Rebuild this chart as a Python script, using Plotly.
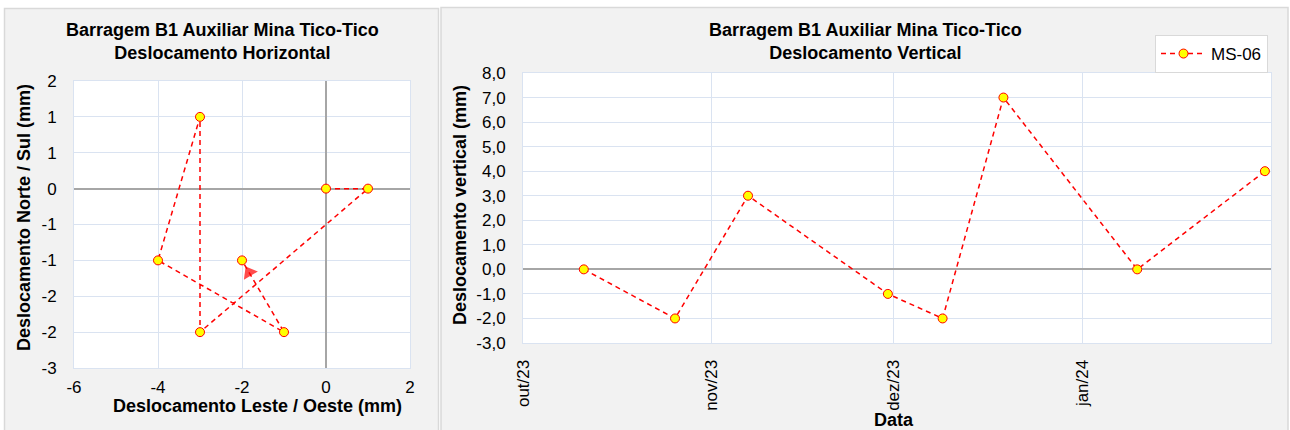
import plotly.graph_objects as go

# --- Horizontal displacement readings (mm) ---
leste_oeste = [0, 1, -3, -3, -4, -1, -2]
norte_sul = [0, 0, -2, 1, -1, -2, -1]

# North/South axis: ticks every 0.5 mm shown with integer rounding
ns_tickvals = [-2.5, -2, -1.5, -1, -0.5, 0, 0.5, 1, 1.5]
ns_ticktext = ["-3", "-2", "-2", "-1", "-1", "0", "1", "1", "2"]
lo_tickvals = [-6, -4, -2, 0, 2]
lo_ticktext = ["-6", "-4", "-2", "0", "2"]

# --- Vertical displacement readings (mm), settlement plate MS-06 ---
datas = ["2023-10-11", "2023-10-26", "2023-11-07", "2023-11-30",
         "2023-12-09", "2023-12-19", "2024-01-10", "2024-01-31"]
ms06 = [0, -2, 3, -1, -2, 7, 0, 4]

mes_tickvals = ["2023-10-01", "2023-11-01", "2023-12-01", "2024-01-01"]
mes_ticktext = ["out/23", "nov/23", "dez/23", "jan/24"]

vert_tickvals = [-3, -2, -1, 0, 1, 2, 3, 4, 5, 6, 7, 8]
vert_ticktext = [f"{v:.1f}".replace(".", ",") for v in vert_tickvals]

W, H = 1290, 430
FONT = "Liberation Sans, Arial, sans-serif"
RED = "#ff0000"
YELLOW = "#ffff00"
GRID = "#dae3f1"
ZERO = "#a6a6a6"
PANEL = "#f2f2f2"
PANEL_EDGE = "#d9d9d9"


def px(x):
    return x / W


def py(y):
    return 1 - y / H


line_style = dict(color=RED, width=1.5, dash="5px,4px")
marker_style = dict(symbol="circle", size=9, color=YELLOW, line=dict(color=RED, width=1))

fig = go.Figure()

fig.add_trace(go.Scatter(
    x=leste_oeste, y=norte_sul, mode="lines+markers",
    line=line_style, marker=marker_style, showlegend=False,
    xaxis="x", yaxis="y",
))

# arrowhead on the last segment, just before the final reading
frac = 0.17
tip_x = leste_oeste[-1] + frac * (leste_oeste[-2] - leste_oeste[-1])
tip_y = norte_sul[-1] + frac * (norte_sul[-2] - norte_sul[-1])
fig.add_trace(go.Scatter(
    x=[leste_oeste[-2], tip_x], y=[norte_sul[-2], tip_y], mode="markers",
    marker=dict(symbol=["circle", "triangle-up"], size=[0, 14], color=RED,
                angleref="previous", line=dict(width=0)),
    showlegend=False, hoverinfo="skip", xaxis="x", yaxis="y",
))

fig.add_trace(go.Scatter(
    x=datas, y=ms06, mode="lines+markers", name="MS-06",
    line=line_style, marker=marker_style, showlegend=True,
    xaxis="x2", yaxis="y2",
))

axis_common = dict(
    showgrid=True, gridcolor=GRID, gridwidth=1,
    showline=True, mirror=True, linecolor=GRID, linewidth=1,
    ticks="", tickfont=dict(family=FONT, size=17, color="#000000"),
    fixedrange=True, automargin=False,
)

fig.update_layout(
    template="none",
    width=W, height=H,
    margin=dict(l=0, r=0, t=0, b=0, pad=0, autoexpand=False),
    paper_bgcolor="#ffffff", plot_bgcolor="#ffffff",
    font=dict(family=FONT, size=17, color="#000000"),
    xaxis=dict(axis_common, domain=[px(74), px(410)], range=[-6, 2],
               tickvals=lo_tickvals, ticktext=lo_ticktext, anchor="y",
               zeroline=True, zerolinecolor=ZERO, zerolinewidth=2,
               ticklabelstandoff=4),
    yaxis=dict(axis_common, domain=[py(368), py(81)], range=[-2.5, 1.5],
               tickvals=ns_tickvals, ticktext=ns_ticktext, anchor="x",
               zeroline=True, zerolinecolor=ZERO, zerolinewidth=2,
               ticklabelstandoff=13),
    xaxis2=dict(axis_common, type="date", domain=[px(523), px(1271)],
                range=["2023-10-01", "2024-02-01"],
                tickvals=mes_tickvals, ticktext=mes_ticktext, tickangle=-90,
                anchor="y2", ticklabelstandoff=9),
    yaxis2=dict(axis_common, domain=[py(343), py(73)], range=[-3, 8],
                tickvals=vert_tickvals, ticktext=vert_ticktext, anchor="x2",
                zeroline=True, zerolinecolor=ZERO, zerolinewidth=2,
                ticklabelstandoff=13),
    legend=dict(x=px(1268), xanchor="right", y=py(54), yanchor="middle",
                bgcolor="#ffffff", bordercolor=PANEL_EDGE, borderwidth=1,
                itemwidth=45,
                font=dict(family=FONT, size=17, color="#000000")),
)

# chart panels and white plotting areas
fig.add_shape(type="rect", xref="paper", yref="paper", layer="below",
              x0=px(4.5), x1=px(438.5), y0=-0.05, y1=py(8.5),
              fillcolor=PANEL, line=dict(color=PANEL_EDGE, width=1.5))
fig.add_shape(type="rect", xref="paper", yref="paper", layer="below",
              x0=px(441), x1=px(1288), y0=-0.05, y1=py(7.5),
              fillcolor=PANEL, line=dict(color=PANEL_EDGE, width=1.5))
fig.add_shape(type="rect", xref="paper", yref="paper", layer="below",
              x0=px(74), x1=px(410), y0=py(368), y1=py(81),
              fillcolor="#ffffff", line=dict(width=0))
fig.add_shape(type="rect", xref="paper", yref="paper", layer="below",
              x0=px(523), x1=px(1271), y0=py(343), y1=py(73),
              fillcolor="#ffffff", line=dict(width=0))

bold = dict(family=FONT, size=18, color="#000000", weight="bold")


def note(text, x, y, angle=0):
    fig.add_annotation(text=text, x=px(x), y=py(y), xref="paper", yref="paper",
                       xanchor="center", yanchor="middle", showarrow=False,
                       textangle=angle, font=bold)


note("Barragem B1 Auxiliar Mina Tico-Tico<br>Deslocamento Horizontal", 222, 41)
note("Barragem B1 Auxiliar Mina Tico-Tico<br>Deslocamento Vertical", 865, 41)
note("Deslocamento Leste / Oeste (mm)", 257, 406)
note("Deslocamento Norte / Sul (mm)", 24, 218, -90)
note("Deslocamento vertical (mm)", 460, 205, -90)
note("Data", 894, 420)

# the page body keeps no default margin so the figure fills the window
fig.write_html("out.html", post_script="document.body.style.margin='0';")
